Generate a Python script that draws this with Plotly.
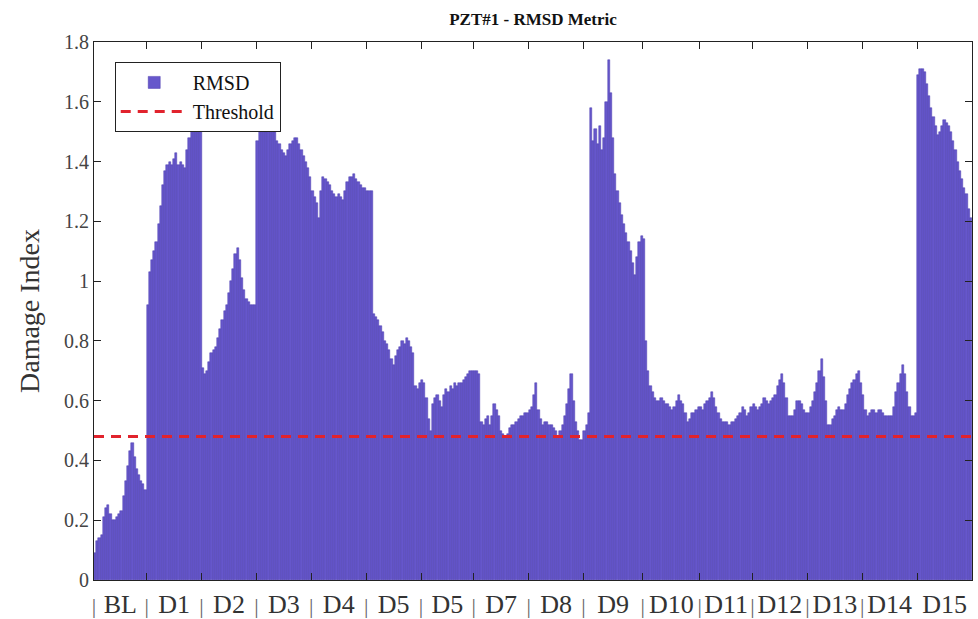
import plotly.graph_objects as go

# ---- data ----
segment_labels = ["BL", "D1", "D2", "D3", "D4", "D5", "D5", "D7", "D8", "D9",
                  "D10", "D11", "D12", "D13", "D14", "D15"]

bl = [0.09, 0.13, 0.14, 0.15, 0.21, 0.24, 0.25, 0.22, 0.20, 0.20, 0.21, 0.22,
      0.23, 0.28, 0.33, 0.38, 0.43, 0.46, 0.41, 0.37, 0.35, 0.33, 0.32, 0.30]
d1 = [0.92, 1.03, 1.07, 1.10, 1.13, 1.19, 1.25, 1.32, 1.37, 1.39, 1.40, 1.39, 1.41,
      1.43, 1.39, 1.40, 1.39, 1.38, 1.44, 1.48, 1.51, 1.53, 1.55, 1.56, 1.58]
d2 = [0.71, 0.69, 0.70, 0.73, 0.76, 0.77, 0.78, 0.81, 0.84, 0.87, 0.90, 0.92, 0.96,
      1.00, 1.04, 1.09, 1.11, 1.07, 1.01, 0.97, 0.94, 0.93, 0.92, 0.92, 0.92]
d3 = [1.47, 1.51, 1.52, 1.53, 1.50, 1.55, 1.57, 1.54, 1.50, 1.47, 1.46, 1.44, 1.43,
      1.42, 1.44, 1.46, 1.47, 1.48, 1.48, 1.46, 1.44, 1.42, 1.40, 1.38, 1.35]
d4 = [1.30, 1.28, 1.26, 1.21, 1.30, 1.35, 1.34, 1.33, 1.32, 1.30, 1.29, 1.28, 1.29,
      1.28, 1.27, 1.30, 1.33, 1.35, 1.35, 1.36, 1.34, 1.33, 1.32, 1.31, 1.31]
d5 = [1.30, 1.30, 1.30, 0.89, 0.88, 0.87, 0.85, 0.83, 0.80, 0.79, 0.77, 0.74, 0.72,
      0.75, 0.77, 0.78, 0.80, 0.79, 0.81, 0.80, 0.78, 0.76, 0.65, 0.64, 0.66]
d5b = [0.67, 0.66, 0.61, 0.54, 0.50, 0.59, 0.61, 0.62, 0.60, 0.58, 0.62, 0.64,
       0.63, 0.65, 0.64, 0.66, 0.65, 0.66, 0.66, 0.67, 0.68, 0.69, 0.70, 0.70]
d7 = [0.70, 0.70, 0.69, 0.53, 0.52, 0.54, 0.55, 0.52, 0.55, 0.59, 0.57, 0.55, 0.50,
      0.49, 0.48, 0.49, 0.51, 0.52, 0.52, 0.53, 0.54, 0.55, 0.55, 0.56, 0.56]
d8 = [0.57, 0.58, 0.62, 0.66, 0.57, 0.54, 0.52, 0.53, 0.53, 0.52, 0.52, 0.51, 0.50,
      0.48, 0.50, 0.52, 0.55, 0.59, 0.64, 0.69, 0.60, 0.53, 0.50, 0.47, 0.47]
d9 = [0.50, 0.52, 0.56, 1.58, 1.47, 1.51, 1.46, 1.52, 1.44, 1.48, 1.60, 1.74, 1.63,
      1.48, 1.36, 1.30, 1.26, 1.22, 1.19, 1.16, 1.13, 1.10, 1.06, 1.02, 1.08, 1.13, 1.15]
d10 = [1.14, 0.80, 0.70, 0.65, 0.63, 0.61, 0.60, 0.60, 0.61, 0.60, 0.59, 0.59, 0.58,
       0.57, 0.58, 0.60, 0.62, 0.60, 0.59, 0.56, 0.53, 0.54, 0.56, 0.56, 0.57, 0.58]
d11 = [0.58, 0.57, 0.59, 0.60, 0.61, 0.63, 0.61, 0.58, 0.56, 0.54, 0.53, 0.53,
       0.53, 0.52, 0.53, 0.53, 0.54, 0.55, 0.56, 0.58, 0.57, 0.55, 0.56, 0.58]
d12 = [0.59, 0.58, 0.57, 0.58, 0.59, 0.61, 0.60, 0.59, 0.60, 0.61, 0.62, 0.65, 0.67,
       0.69, 0.66, 0.61, 0.55, 0.55, 0.55, 0.57, 0.60, 0.60, 0.59, 0.57, 0.56]
d13 = [0.56, 0.58, 0.60, 0.63, 0.66, 0.70, 0.74, 0.68, 0.60, 0.52, 0.52, 0.54, 0.55,
       0.57, 0.58, 0.57, 0.57, 0.59, 0.62, 0.64, 0.66, 0.67, 0.69, 0.70, 0.66]
d14 = [0.62, 0.57, 0.55, 0.56, 0.57, 0.57, 0.56, 0.57, 0.57, 0.56, 0.55, 0.55, 0.55,
       0.55, 0.58, 0.63, 0.66, 0.69, 0.72, 0.69, 0.63, 0.58, 0.55, 0.55, 0.56]
d15 = [1.69, 1.71, 1.71, 1.70, 1.66, 1.62, 1.58, 1.55, 1.52, 1.49, 1.50, 1.52, 1.54,
       1.53, 1.52, 1.50, 1.47, 1.44, 1.40, 1.37, 1.34, 1.31, 1.29, 1.24, 1.21]

threshold = 0.48
y_ticks = [0, 0.2, 0.4, 0.6, 0.8, 1.0, 1.2, 1.4, 1.6, 1.8]
y_tick_labels = ["0", "0.2", "0.4", "0.6", "0.8", "1", "1.2", "1.4", "1.6", "1.8"]

segments = [bl, d1, d2, d3, d4, d5, d5b, d7, d8, d9, d10, d11, d12, d13, d14, d15]

# ---- build series ----
rmsd = []
starts = []
for seg in segments:
    starts.append(len(rmsd))
    rmsd.extend(seg)
n = len(rmsd)
idx = list(range(n))
boundaries = [s - 0.5 for s in starts]
centers = [(starts[i] + (starts[i + 1] if i + 1 < len(starts) else n)) / 2 - 0.5
           for i in range(len(starts))]
sep_text = ["|"] * (len(boundaries) - 1) + [""]

FONT = "Liberation Serif, Times New Roman, serif"
BAR_FILL = "#6657cb"
BAR_EDGE = "#4a3aae"

fig = go.Figure()
fig.add_trace(go.Bar(
    x=idx, y=rmsd, name="RMSD", width=1.0,
    marker=dict(color=BAR_FILL, line=dict(color=BAR_EDGE, width=0.5)),
))
fig.add_trace(go.Scatter(
    x=[-0.5, n - 0.5], y=[threshold, threshold], mode="lines", name="Threshold",
    xaxis="x2", line=dict(color="rgb(225,35,45)", width=3, dash="10px,7px"),
))

fig.update_layout(
    width=978, height=619, autosize=False,
    margin=dict(l=94, r=6, t=42, b=39),
    paper_bgcolor="white", plot_bgcolor="white",
    bargap=0,
    font=dict(family=FONT, color="#333333"),
    title=dict(text="<b>PZT#1 - RMSD Metric</b>", x=0.5, xref="paper",
               y=1 - 19 / 619, yref="container", yanchor="middle", xanchor="center",
               font=dict(family=FONT, size=17, color="#111111")),
    xaxis=dict(range=[-0.5, n - 0.5], tickmode="array", tickvals=boundaries,
               ticktext=sep_text, ticks="inside", ticklen=7, tickcolor="#222",
               showline=True, linecolor="#222", linewidth=1, mirror="ticks",
               showgrid=False, zeroline=False, ticklabelstandoff=6,
               automargin=False,
               tickfont=dict(family=FONT, size=22, color="#666666")),
    xaxis2=dict(range=[-0.5, n - 0.5], overlaying="x", anchor="y", side="bottom",
                tickmode="array", tickvals=centers, ticktext=segment_labels,
                ticks="", showline=False, showgrid=False, zeroline=False,
                ticklabelstandoff=6, automargin=False,
                tickfont=dict(family=FONT, size=26, color="#333333")),
    yaxis=dict(range=[0, 1.8], tickmode="array", tickvals=y_ticks,
               ticktext=y_tick_labels, ticks="inside", ticklen=7, tickcolor="#222",
               showline=True, linecolor="#222", linewidth=1, mirror="ticks",
               showgrid=False, zeroline=False, automargin=False,
               tickfont=dict(family=FONT, size=20, color="#444444"),
               title=dict(text="Damage Index", standoff=16,
                          font=dict(family=FONT, size=28, color="#333333"))),
    legend=dict(x=0.0236, y=0.963, xanchor="left", yanchor="top",
                bgcolor="white", bordercolor="#222", borderwidth=1,
                font=dict(family=FONT, size=20, color="#111111"),
                itemwidth=67, tracegroupgap=0),
    showlegend=True,
)

fig.write_html("out.html")
